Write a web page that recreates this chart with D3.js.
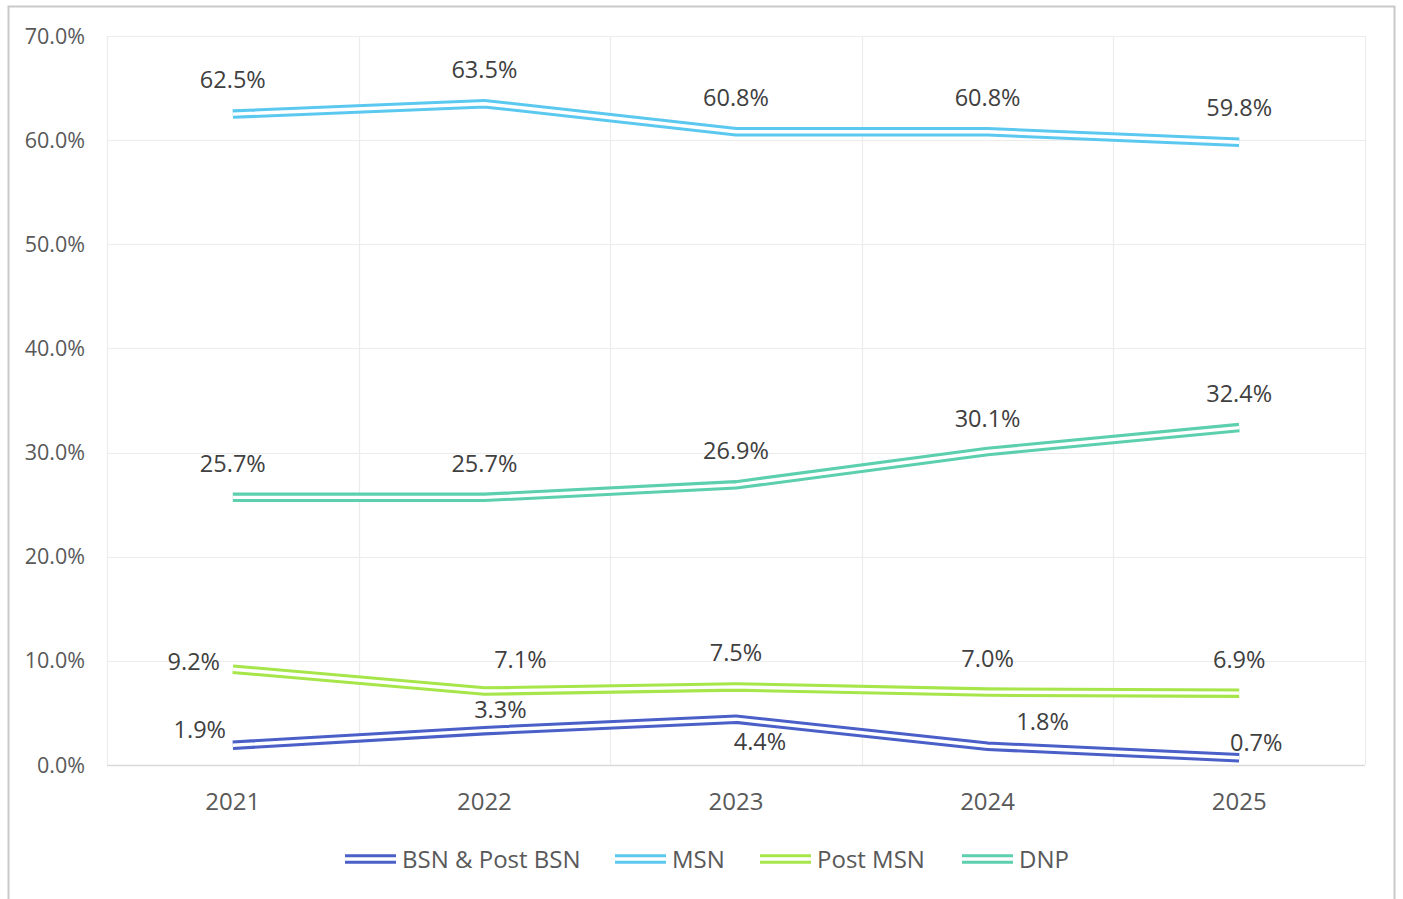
<!DOCTYPE html>
<html><head><meta charset="utf-8">
<script src="https://cdn.jsdelivr.net/npm/d3@7/dist/d3.min.js"></script>
<style>body{margin:0;background:#fff;}svg{display:block;font-family:"Open Sans",sans-serif;}</style>
</head><body>
<svg id="c" width="1403" height="899"></svg>
<script>
const years = ["2021","2022","2023","2024","2025"];
const seriesNames = ["BSN & Post BSN","MSN","Post MSN","DNP"];
const bsn = [1.9, 3.3, 4.4, 1.8, 0.7];
const msn = [62.5, 63.5, 60.8, 60.8, 59.8];
const postMsn = [9.2, 7.1, 7.5, 7.0, 6.9];
const dnp = [25.7, 25.7, 26.9, 30.1, 32.4];
const yTicks = [0,10,20,30,40,50,60,70];
const colors = ["#4a5fc8","#5bc8f0","#a6e64a","#5ccfae"];
// label offsets (px) relative to each point
const labelOffsets = [
  [[-33,-16],[16,-22],[24,22],[55,-25],[17,-16]],
  [[0,-35],[0,-35],[0,-35],[0,-35],[0,-35]],
  [[-39,-8],[36,-32],[0,-35],[0,-34],[0,-34]],
  [[0,-34],[0,-34],[0,-35],[0,-34],[0,-35]]
];
const allSeries = [bsn, msn, postMsn, dnp];

const svg = d3.select("#c");
const L=107, R=1365, T=36, B=765;
const x = d3.scaleBand().domain(years).range([L,R]);
const y = d3.scaleLinear().domain([0,70]).range([B,T]);

// outer border
svg.append("rect").attr("x",8.5).attr("y",6.5).attr("width",1386).attr("height",900)
  .attr("fill","none").attr("stroke","#c9c9c9").attr("stroke-width",2);

// gridlines
const g = svg.append("g");
g.selectAll("line.h").data(yTicks).join("line")
  .attr("x1",L).attr("x2",R).attr("y1",d=>Math.round(y(d))+0.5).attr("y2",d=>Math.round(y(d))+0.5)
  .attr("stroke",d=>d===0?"#d9d9d9":"#ececec").attr("stroke-width",d=>d===0?1.5:1.2);
const vb = years.map(d=>x(d)).concat([R]);
g.selectAll("line.v").data(vb).join("line")
  .attr("x1",d=>Math.round(d)+0.5).attr("x2",d=>Math.round(d)+0.5).attr("y1",T).attr("y2",B)
  .attr("stroke","#ececec").attr("stroke-width",1.2);

// y axis labels
svg.selectAll("text.yt").data(yTicks).join("text")
  .attr("x",85).attr("y",d=>y(d)-1).attr("text-anchor","end").attr("dominant-baseline","central")
  .attr("font-size",21.5).attr("fill","#595959").text(d=>d.toFixed(1)+"%");
// x axis labels
svg.selectAll("text.xt").data(years).join("text")
  .attr("x",d=>x(d)+x.bandwidth()/2).attr("y",800).attr("text-anchor","middle").attr("dominant-baseline","central")
  .attr("font-size",24).attr("fill","#595959").text(d=>d);

const cx = d=>x(d)+x.bandwidth()/2;
const line = d3.line().x(d=>cx(d[0])).y(d=>y(d[1]));
allSeries.forEach((vals,i)=>{
  const pts = years.map((yr,j)=>[yr,vals[j]]);
  svg.append("path").attr("d",line(pts)).attr("fill","none").attr("stroke",colors[i]).attr("stroke-width",9.5);
  svg.append("path").attr("d",line(pts)).attr("fill","none").attr("stroke","#fff").attr("stroke-width",3.4);
});
allSeries.forEach((vals,i)=>{
  svg.selectAll(null).data(vals).join("text")
    .attr("x",(d,j)=>cx(years[j])+labelOffsets[i][j][0])
    .attr("y",(d,j)=>y(d)+labelOffsets[i][j][1])
    .attr("text-anchor","middle").attr("dominant-baseline","central")
    .attr("font-size",23.5).attr("fill","#404040").text(d=>d.toFixed(1)+"%");
});

// legend
const legX = [345,615,760,962];
seriesNames.forEach((n,i)=>{
  const lg = svg.append("g");
  lg.append("line").attr("x1",legX[i]).attr("x2",legX[i]+51).attr("y1",859).attr("y2",859)
    .attr("stroke",colors[i]).attr("stroke-width",9.5);
  lg.append("line").attr("x1",legX[i]).attr("x2",legX[i]+51).attr("y1",859).attr("y2",859)
    .attr("stroke","#fff").attr("stroke-width",3.4);
  lg.append("text").attr("x",legX[i]+57).attr("y",858).attr("dominant-baseline","central")
    .attr("font-size",24).attr("fill","#595959").text(n);
});
</script>
</body></html>
